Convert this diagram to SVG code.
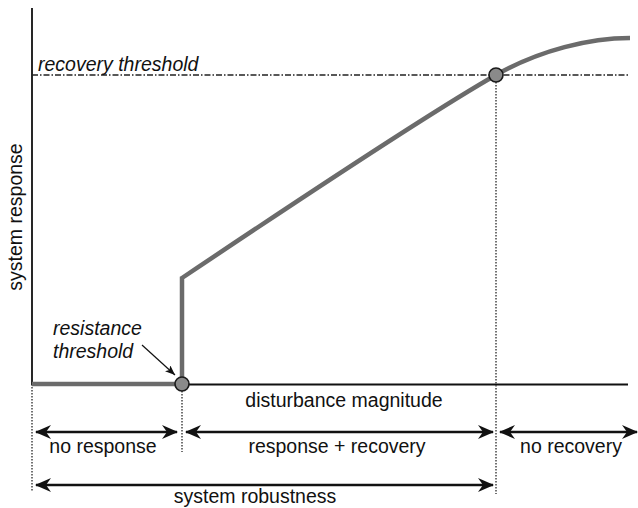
<svg xmlns="http://www.w3.org/2000/svg" width="638" height="508" viewBox="0 0 638 508">
<style>
text{font-family:"Liberation Sans",Arial,sans-serif;font-size:19.5px;fill:#111}
.it{font-style:italic}
.axis{stroke:#111;stroke-width:1.8;fill:none}
.dot{stroke:#444;stroke-width:1.5;stroke-dasharray:1.5 1.5;fill:none}
.dd{stroke:#222;stroke-width:1.5;stroke-dasharray:6 2 1.5 2;fill:none}
.curve{stroke:#6b6b6b;stroke-width:4.5;fill:none;stroke-linejoin:miter}
.pt{fill:#8a8a8a;stroke:#1a1a1a;stroke-width:1.6}
.dim{stroke:#111;stroke-width:2.4;fill:none;marker-start:url(#ah);marker-end:url(#ah)}
</style>
<defs>
<marker id="ah" viewBox="0 0 16 14" refX="15" refY="7" markerWidth="16" markerHeight="14" markerUnits="userSpaceOnUse" orient="auto-start-reverse">
<path d="M0,0 L16,7 L0,14 L5,7 Z" fill="#111"/>
</marker>
<marker id="sa" viewBox="0 0 10 8" refX="10" refY="4" markerWidth="10" markerHeight="8" markerUnits="userSpaceOnUse" orient="auto">
<path d="M0,0 L10,4 L0,8 L2.5,4 Z" fill="#111"/>
</marker>
</defs>
<g id="axes">
<path class="axis" d="M32,8 V384.5 H628"/>
<text x="22" y="217" text-anchor="middle" transform="rotate(-90 22 217)">system response</text>
<text x="344" y="407" text-anchor="middle">disturbance magnitude</text>
</g>
<g id="recovery-threshold">
<path class="dd" d="M32,75 H630"/>
<text class="it" x="38" y="71">recovery threshold</text>
</g>
<g id="connectors">
<path class="dot" d="M32,387 V492"/>
<path class="dot" d="M182,391 V452"/>
<path class="dot" d="M496,82 V494"/>
<path class="curve" d="M32,384 H182 V278 Q422,117 496,75 C540,50 590,38 630,38"/>
<path d="M142,345 L175,375" stroke="#111" stroke-width="1.2" fill="none" marker-end="url(#sa)"/>
</g>
<g id="resistance-point">
<circle class="pt" cx="182" cy="384" r="7"/>
<text class="it" x="53" y="335">resistance</text>
<text class="it" x="53" y="358">threshold</text>
</g>
<g id="recovery-point">
<circle class="pt" cx="496" cy="75" r="7"/>
</g>
<g id="no-response">
<path class="dim" d="M36,432 H177"/>
<text x="103" y="453" text-anchor="middle">no response</text>
</g>
<g id="response-recovery">
<path class="dim" d="M186,432 H493"/>
<text x="337" y="453" text-anchor="middle">response + recovery</text>
</g>
<g id="no-recovery">
<path class="dim" d="M500,432 H637"/>
<text x="571" y="453" text-anchor="middle">no recovery</text>
</g>
<g id="system-robustness">
<path class="dim" d="M36,485 H493"/>
<text x="255" y="503" text-anchor="middle">system robustness</text>
</g>
</svg>
